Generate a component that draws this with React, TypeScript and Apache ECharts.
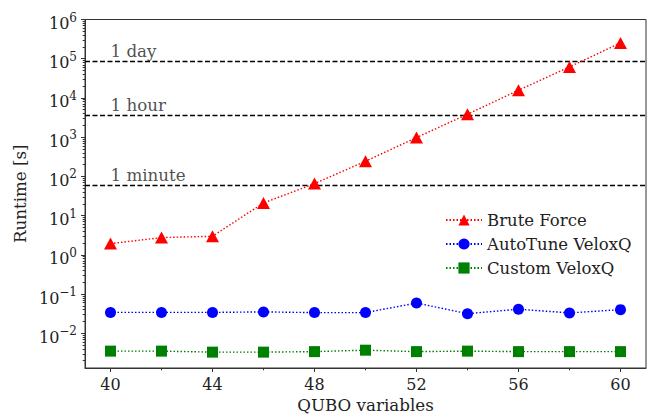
import React, { useEffect, useRef } from "react";
import * as echarts from "echarts";

const qubo = [40, 42, 44, 46, 48, 50, 52, 54, 56, 58, 60];
const bruteForce = [1.93, 2.75, 2.97, 21, 65.5, 243, 977, 3840, 15700, 61800, 253000];
const autoTune = [0.034, 0.034, 0.034, 0.035, 0.0336, 0.0336, 0.059, 0.0316, 0.041, 0.033, 0.04];
const customVelox = [0.0035, 0.0035, 0.0033, 0.0033, 0.0034, 0.0037, 0.0034, 0.0035, 0.0034, 0.0034, 0.0034];

const refNames = ["1 day", "1 hour", "1 minute"];
const refValues = [86400, 3600, 60];

const xMajorTicks = [40, 44, 48, 52, 56, 60];
const xMinorTicks = [42, 46, 50, 54, 58];
const yMajorExponents = [-2, -1, 0, 1, 2, 3, 4, 5, 6];
const yMinorMultipliers = [2, 3, 4, 5, 6, 7, 8, 9];
const yMinorDecades = [-3, -2, -1, 0, 1, 2, 3, 4, 5];

const X_MIN = 39;
const X_MAX = 61;
const Y_MIN = 0.0013;
const Y_MAX = 1e6;

const FONT = "DejaVu Serif";
const TXT = "#222";

const lg = (v: number) => Math.log10(v);

export default function App() {
  const ref = useRef<HTMLDivElement>(null);
  useEffect(() => {
    document.body.style.margin = "0";
    if (!ref.current) return;
    const chart = echarts.init(ref.current, undefined, { renderer: "svg" });

    const yMinor: number[] = [];
    yMinorDecades.forEach((k) =>
      yMinorMultipliers.forEach((m) => {
        const v = m * Math.pow(10, k);
        if (v >= Y_MIN && v <= Y_MAX) yMinor.push(lg(v));
      })
    );

    const pair = (arr: number[]) => qubo.map((x, i) => [x, lg(arr[i])]);
    const dotted = (color: string) => ({ color, width: 1.4, type: [1.5, 2] as any });

    const option: any = {
      animation: false,
      backgroundColor: "#fff",
      textStyle: { fontFamily: FONT },
      grid: {
        left: 85,
        right: 6,
        top: 19.5,
        bottom: 51,
        show: true,
        borderColor: "#333",
        borderWidth: 1,
        backgroundColor: "transparent",
      },
      xAxis: [
        {
          type: "value",
          position: "bottom",
          min: X_MIN,
          max: X_MAX,
          name: "QUBO variables",
          nameLocation: "middle",
          nameGap: 25,
          nameTextStyle: { fontSize: 16.7, color: TXT, fontFamily: FONT },
          axisLine: { show: true, onZero: false, lineStyle: { color: "#333", width: 1 } },
          axisTick: { show: true, length: 4, customValues: xMajorTicks, lineStyle: { color: "#333" } },
          axisLabel: {
            show: true,
            customValues: xMajorTicks,
            margin: 8,
            fontSize: 16,
            color: TXT,
            fontFamily: FONT,
          },
          splitLine: { show: false },
        },
        {
          type: "value",
          position: "bottom",
          min: X_MIN,
          max: X_MAX,
          axisLine: { show: false, onZero: false },
          axisTick: { show: true, length: 2.3, customValues: xMinorTicks, lineStyle: { color: "#333" } },
          axisLabel: { show: false },
          splitLine: { show: false },
        },
      ],
      yAxis: [
        {
          type: "value",
          position: "left",
          min: lg(Y_MIN),
          max: lg(Y_MAX),
          name: "Runtime [s]",
          nameLocation: "middle",
          nameGap: 55,
          nameTextStyle: { fontSize: 16.7, color: TXT, fontFamily: FONT },
          axisLine: { show: true, onZero: false, lineStyle: { color: "#333", width: 1 } },
          axisTick: { show: true, length: 4, customValues: yMajorExponents, lineStyle: { color: "#333" } },
          axisLabel: {
            show: true,
            customValues: yMajorExponents,
            margin: 8,
            padding: [8, 0, 0, 0],
            formatter: (v: number) => {
              const e = Math.round(v);
              const s = e < 0 ? "\u2212" + -e : String(e);
              return "{b|10}{s|" + s + "}";
            },
            rich: {
              b: { fontSize: 16, lineHeight: 24, color: TXT, fontFamily: FONT },
              s: { fontSize: 12, lineHeight: 12, verticalAlign: "top", color: TXT, fontFamily: FONT },
            },
          },
          splitLine: { show: false },
        },
        {
          type: "value",
          position: "left",
          min: lg(Y_MIN),
          max: lg(Y_MAX),
          axisLine: { show: false, onZero: false },
          axisTick: { show: true, length: 2.3, customValues: yMinor, lineStyle: { color: "#333" } },
          axisLabel: { show: false },
          splitLine: { show: false },
        },
      ],
      legend: {
        orient: "vertical",
        left: 445,
        top: 211,
        padding: 0,
        itemWidth: 36,
        itemHeight: 14,
        itemGap: 6,
        itemTextGap: 14,
        data: ["Brute Force", "AutoTune VeloxQ", "Custom VeloxQ"],
        textStyle: { fontSize: 16.5, lineHeight: 18, color: TXT, fontFamily: FONT },
      },
      tooltip: { show: false },
      series: [
        {
          name: "Brute Force",
          type: "line",
          data: pair(bruteForce),
          symbol: "triangle",
          symbolSize: [13, 12],
          itemStyle: { color: "#ff0000" },
          lineStyle: dotted("#ff0000"),
          z: 3,
          markLine: {
            silent: true,
            symbol: ["none", "none"],
            label: { show: false },
            lineStyle: { color: "#000", type: [5, 2.5], width: 1.3 },
            data: refValues.map((v) => ({ yAxis: lg(v) })),
            z: 2,
          },
        },
        {
          name: "AutoTune VeloxQ",
          type: "line",
          data: pair(autoTune),
          symbol: "circle",
          symbolSize: 11,
          itemStyle: { color: "#0000ff" },
          lineStyle: dotted("#0000ff"),
          z: 3,
        },
        {
          name: "Custom VeloxQ",
          type: "line",
          data: pair(customVelox),
          symbol: "rect",
          symbolSize: 11,
          itemStyle: { color: "#008000" },
          lineStyle: dotted("#008000"),
          z: 3,
        },
        {
          name: "annotations",
          type: "scatter",
          silent: true,
          symbolSize: 0,
          data: refValues.map((v, i) => ({ name: refNames[i], value: [qubo[0], lg(v)] })),
          label: {
            show: true,
            formatter: (p: any) => p.name,
            position: [0, -2],
            align: "left",
            verticalAlign: "bottom",
            fontSize: 16.7,
            color: TXT,
            fontFamily: FONT,
          },
        },
      ],
    };
    chart.setOption(option);
    return () => chart.dispose();
  }, []);
  return <div ref={ref} style={{ width: 652, height: 419 }} />;
}
